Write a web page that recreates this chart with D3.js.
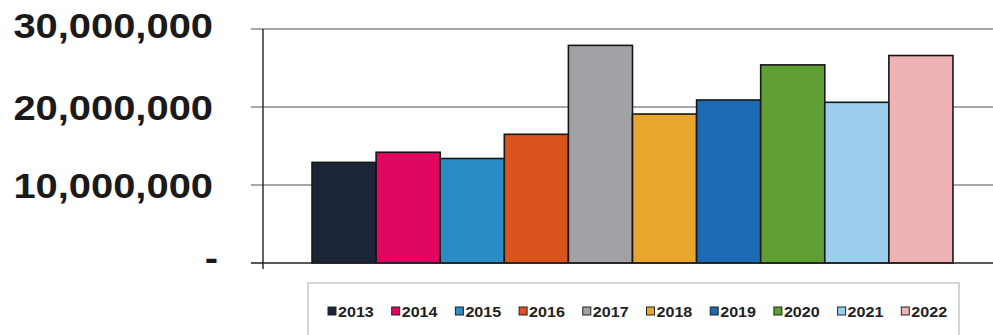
<!DOCTYPE html>
<html>
<head>
<meta charset="utf-8">
<script src="https://cdn.jsdelivr.net/npm/d3@7"></script>
<style>
  html, body { margin: 0; padding: 0; background: #fff; }
  svg { display: block; }
</style>
</head>
<body>
<svg id="chart" width="993" height="335"></svg>
<script>
const years = ["2013","2014","2015","2016","2017","2018","2019","2020","2021","2022"];
const values = [12900000, 14200000, 13400000, 16500000, 27900000, 19100000, 20900000, 25400000, 20600000, 26600000];
const colors = ["#1c2538","#e0065f","#2b8dc3","#d8541c","#a2a2a6","#e8a72c","#1b6bb4","#5f9f34","#9acdee","#efb2b2"];
const yTicks = [0, 10000000, 20000000, 30000000];
const yTickLabels = ["-", "10,000,000", "20,000,000", "30,000,000"];

const svg = d3.select("#chart");

const y = d3.scaleLinear().domain([0, 30000000]).range([263, 29]);
const xGroup = d3.scaleBand().domain(["all"]).range([263, 1002]).paddingInner(0).paddingOuter(0.0765);
const x = d3.scaleBand().domain(years).range([xGroup("all"), xGroup("all") + xGroup.bandwidth()]).padding(0);

// gridlines
svg.append("g").selectAll("line.grid")
  .data(yTicks.filter(d => d > 0))
  .join("line")
  .attr("x1", 251).attr("x2", 993)
  .attr("y1", d => y(d)).attr("y2", d => y(d))
  .attr("stroke", "#8a8a8a").attr("stroke-width", 1.3);

// bars
svg.append("g").selectAll("rect")
  .data(years.map((yr, i) => ({yr, v: values[i], c: colors[i]})))
  .join("rect")
  .attr("x", d => x(d.yr))
  .attr("y", d => y(d.v))
  .attr("width", x.bandwidth())
  .attr("height", d => y(0) - y(d.v))
  .attr("fill", d => d.c)
  .attr("stroke", "#161616")
  .attr("stroke-width", 1.6);

// axes lines
svg.append("line").attr("x1", 263).attr("x2", 263).attr("y1", 29).attr("y2", 269)
  .attr("stroke", "#222").attr("stroke-width", 1.4);
svg.append("line").attr("x1", 251).attr("x2", 993).attr("y1", y(0)).attr("y2", y(0))
  .attr("stroke", "#222").attr("stroke-width", 1.5);

// y labels
svg.append("g").selectAll("text")
  .data(yTicks)
  .join("text")
  .attr("transform", d => `translate(${d === 0 ? 218 : 213},${y(d) - (d === 30000000 ? 4 : 0)}) scale(1.14,1)`)
  .attr("dy", d => d === 0 ? "0.2em" : "0.36em")
  .attr("text-anchor", "end")
  .attr("font-family", "'Liberation Sans', Arial, sans-serif")
  .attr("font-weight", "bold")
  .attr("font-size", 35)
  .attr("fill", "#1a1a1a")
  .text((d, i) => yTickLabels[i]);

// legend box
svg.append("rect").attr("x", 308).attr("y", 283).attr("width", 651).attr("height", 70)
  .attr("fill", "#fff").attr("stroke", "#b8b8b8").attr("stroke-width", 1.2);

const legendX = d3.scaleBand().domain(years).range([328, 328 + 63.7 * years.length]);
const lg = svg.append("g").selectAll("g")
  .data(years.map((yr, i) => ({yr, c: colors[i]})))
  .join("g")
  .attr("transform", d => `translate(${legendX(d.yr)},307)`);
lg.append("rect").attr("x", 0).attr("y", 0).attr("width", 8).attr("height", 8)
  .attr("fill", d => d.c).attr("stroke", "#222").attr("stroke-width", 1);
lg.append("text")
  .attr("transform", "translate(10,9.5) scale(1.15,1)")
  .attr("font-family", "'Liberation Sans', Arial, sans-serif")
  .attr("font-weight", "bold")
  .attr("font-size", 14)
  .attr("fill", "#222")
  .text(d => d.yr);
</script>
</body>
</html>
